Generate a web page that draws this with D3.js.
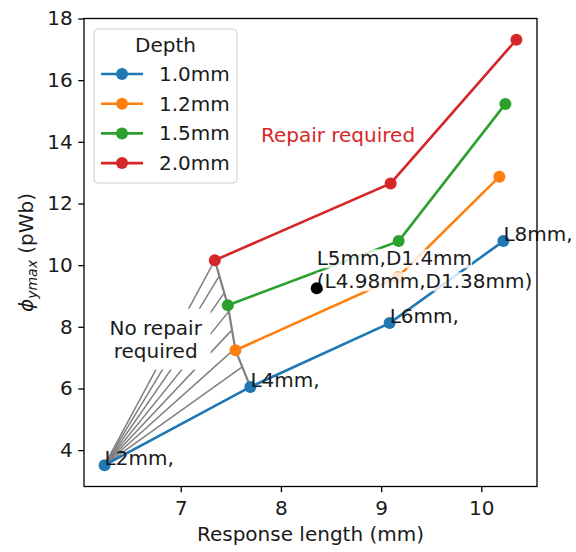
<!DOCTYPE html>
<html>
<head>
<meta charset="utf-8">
<script src="https://cdn.jsdelivr.net/npm/d3@7"></script>
<style>
body { margin: 0; background: #fff; }
svg { display: block; font-family: "DejaVu Sans", sans-serif; }
</style>
</head>
<body>
<svg id="chart"></svg>
<script>
var depths = ["1.0mm", "1.2mm", "1.5mm", "2.0mm"];
var colors = ["#1f77b4", "#ff7f0e", "#2ca02c", "#d62728"];

// response length (mm) / phi_ymax (pWb) per depth
var len10 = [6.24, 7.695, 9.085, 10.22];
var phi10 = [3.51, 6.05, 8.12, 10.78];
var len12 = [7.546, 9.165, 10.18];
var phi12 = [7.24, 9.61, 12.87];
var len15 = [7.47, 9.175, 10.24];
var phi15 = [8.70, 10.78, 15.23];
var len20 = [7.34, 9.095, 10.35];
var phi20 = [10.16, 12.65, 17.31];

var pointLabels = ["L2mm,", "L4mm,", "L6mm,", "L8mm,"];
var target = [8.357, 9.25];
var targetLabel = ["L5mm,D1.4mm", "(L4.98mm,D1.38mm)"];

// ends of the grey fan that marks the "no repair" zone
var hatchEndX = [7.34, 7.385, 7.434, 7.48, 7.512, 7.543, 7.614, 7.695];
var hatchEndY = [10.16, 9.65, 9.1, 8.5, 7.9, 7.3, 6.7, 6.05];

var xTicks = [7, 8, 9, 10];
var yTicks = [4, 6, 8, 10, 12, 14, 16, 18];

var W = 576, H = 552;
var plot = { left: 84, right: 537, top: 18.5, bottom: 486.5 };
var fs = 20;
var lineGap = 23;
var ink = "#1a1a1a";

var svg = d3.select("#chart").attr("width", W).attr("height", H);

var series = [
  { xs: len10, ys: phi10 },
  { xs: len12, ys: phi12 },
  { xs: len15, ys: phi15 },
  { xs: len20, ys: phi20 }
];

var allX = d3.merge(series.map(function(s) { return s.xs; }));
var allY = d3.merge(series.map(function(s) { return s.ys; }));
var xe = d3.extent(allX), ye = d3.extent(allY);
var xpad = (xe[1] - xe[0]) * 0.05, ypad = (ye[1] - ye[0]) * 0.05;

var x = d3.scaleLinear().domain([xe[0] - xpad, xe[1] + xpad]).range([plot.left, plot.right]);
var y = d3.scaleLinear().domain([ye[0] - ypad, ye[1] + ypad]).range([plot.bottom, plot.top]);

var line = d3.line().x(function(d) { return x(d[0]); }).y(function(d) { return y(d[1]); });

var g = svg.append("g");

// fan of grey lines from L2mm point to the boundary
var origin = [len10[0], phi10[0]];
g.append("g").selectAll("line").data(hatchEndX).enter().append("line")
  .attr("x1", x(origin[0])).attr("y1", y(origin[1]))
  .attr("x2", function(d) { return x(d); })
  .attr("y2", function(d, i) { return y(hatchEndY[i]); })
  .style("stroke", "#808080").style("stroke-width", 1.5);

var boundary = [[len20[0], phi20[0]], [len15[0], phi15[0]], [len12[0], phi12[0]], [len10[1], phi10[1]]];
g.append("path").attr("d", line(boundary))
  .style("fill", "none").style("stroke", "#808080").style("stroke-width", 2.2);

// "No repair required" with white box
var noRep = g.append("g");
var noRepBox = noRep.append("rect").style("fill", "#fff");
var noRepText = noRep.append("text").attr("text-anchor", "middle").style("font-size", fs + "px").style("fill", ink);
["No repair", "required"].forEach(function(t, i) {
  noRepText.append("tspan").attr("x", x(6.75)).attr("y", y(7.0) - lineGap * (1 - i)).text(t);
});
var bb = noRepText.node().getBBox();
noRepBox.attr("x", bb.x - 8).attr("y", bb.y - 7).attr("width", bb.width + 16).attr("height", bb.height + 14);

// series
series.forEach(function(s, k) {
  var pts = s.xs.map(function(v, i) { return [v, s.ys[i]]; });
  var sg = g.append("g");
  sg.append("path").attr("d", line(pts))
    .style("fill", "none").style("stroke", colors[k]).style("stroke-width", 2.6);
  sg.selectAll("circle").data(pts).enter().append("circle")
    .attr("cx", function(d) { return x(d[0]); })
    .attr("cy", function(d) { return y(d[1]); })
    .attr("r", 6).style("fill", colors[k]);
});

// point labels on 1.0mm series
g.append("g").selectAll("text").data(pointLabels).enter().append("text")
  .attr("x", function(d, i) { return x(len10[i]); })
  .attr("y", function(d, i) { return y(phi10[i]); })
  .style("font-size", fs + "px").style("fill", ink)
  .text(function(d) { return d; });

// target annotation, each line on its own faint white box
var tg = g.append("g");
targetLabel.forEach(function(t, i) {
  var box = tg.append("rect").style("fill", "#fff").style("fill-opacity", 0.8);
  var tx = tg.append("text").attr("x", x(target[0])).attr("y", y(target[1]) - lineGap * (1 - i))
    .style("font-size", fs + "px").style("fill", ink).text(t);
  var b = tx.node().getBBox();
  box.attr("x", b.x).attr("y", b.y + 3).attr("width", b.width).attr("height", b.height - 5);
});
tg.append("circle").attr("cx", x(target[0])).attr("cy", y(target[1])).attr("r", 6).style("fill", "#000");

g.append("text").attr("x", x(7.8)).attr("y", y(14.0))
  .style("font-size", fs + "px").style("fill", "#d62728").text("Repair required");

// axes
var xAxis = d3.axisBottom(x).tickValues(xTicks).tickSize(5.7).tickPadding(9).tickFormat(d3.format("d"));
var yAxis = d3.axisLeft(y).tickValues(yTicks).tickSize(5.7).tickPadding(5.7).tickFormat(d3.format("d"));

var xg = svg.append("g").attr("transform", "translate(0," + plot.bottom + ")").call(xAxis);
var yg = svg.append("g").attr("transform", "translate(" + plot.left + ",0)").call(yAxis);
[xg, yg].forEach(function(a) {
  a.select(".domain").remove();
  a.selectAll(".tick line").style("stroke", "#000").style("stroke-width", 1.3);
  a.selectAll(".tick text").style("font-size", fs + "px").style("fill", ink).style("font-family", "DejaVu Sans");
});

svg.append("rect").attr("x", plot.left).attr("y", plot.top)
  .attr("width", plot.right - plot.left).attr("height", plot.bottom - plot.top)
  .style("fill", "none").style("stroke", "#000").style("stroke-width", 1.3);

svg.append("text").attr("x", (plot.left + plot.right) / 2).attr("y", 541)
  .attr("text-anchor", "middle").style("font-size", fs + "px").style("fill", ink)
  .text("Response length (mm)");

var yl = svg.append("text").attr("transform", "translate(33," + ((plot.top + plot.bottom) / 2) + ") rotate(-90)")
  .attr("text-anchor", "middle").style("font-size", fs + "px").style("fill", ink);
yl.append("tspan").style("font-style", "italic").text("\u03d5");
yl.append("tspan").style("font-style", "italic").style("font-size", "14px").attr("dy", 4).text("ymax");
yl.append("tspan").attr("dy", -4).text(" (pWb)");

// legend
var lg = svg.append("g");
lg.append("rect").attr("x", 94).attr("y", 29).attr("width", 143).attr("height", 154).attr("rx", 4)
  .style("fill", "#fff").style("fill-opacity", 0.8).style("stroke", "#cccccc").style("stroke-width", 1);
lg.append("text").attr("x", 165.5).attr("y", 52).attr("text-anchor", "middle")
  .style("font-size", fs + "px").style("fill", ink).text("Depth");
var items = lg.selectAll("g.item").data(depths).enter().append("g").attr("class", "item")
  .attr("transform", function(d, i) { return "translate(0," + (74 + i * 29.7) + ")"; });
items.append("line").attr("x1", 101).attr("x2", 143)
  .style("stroke", function(d, i) { return colors[i]; }).style("stroke-width", 2.6);
items.append("circle").attr("cx", 122).attr("r", 6).style("fill", function(d, i) { return colors[i]; });
items.append("text").attr("x", 159).attr("y", 7).style("font-size", fs + "px").style("fill", ink)
  .text(function(d) { return d; });
</script>
</body>
</html>
